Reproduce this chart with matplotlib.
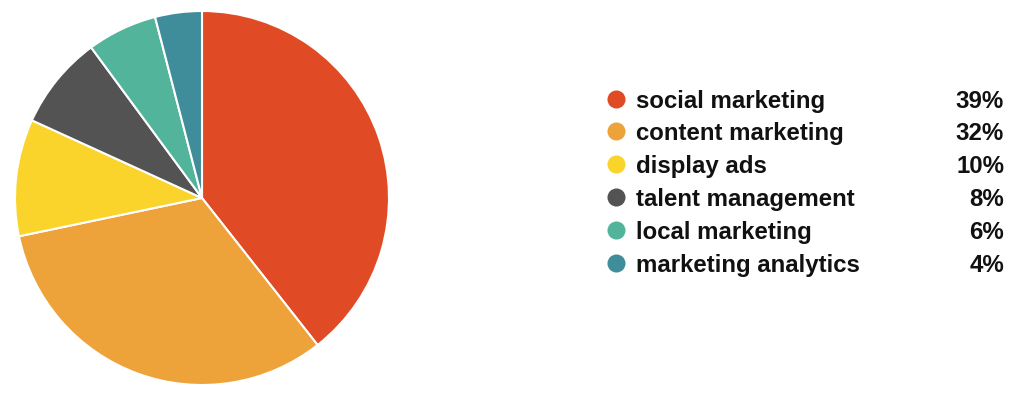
import matplotlib.pyplot as plt

labels = ['social marketing', 'content marketing', 'display ads',
          'talent management', 'local marketing', 'marketing analytics']
values = [39, 32, 10, 8, 6, 4]
colors = ['#E04B25', '#EEA23A', '#FAD42B', '#535353', '#52B49A', '#3F8C9A']

W, H = 1024, 401
fig = plt.figure(figsize=(W / 100, H / 100), dpi=100)

# pie: centre (202, 198) px, radius ~187 px
cx, cy, r = 202, 198, 187
ax = fig.add_axes([(cx - r) / W, (H - cy - r) / H, 2 * r / W, 2 * r / H])
ax.pie(values, colors=colors, startangle=90, counterclock=False,
       wedgeprops=dict(edgecolor='white', linewidth=1.5))
ax.set_xlim(-1, 1)
ax.set_ylim(-1, 1)

# legend rows drawn by hand
row_y = [99, 131, 164, 197, 230, 263]
for lab, val, col, y in zip(labels, values, colors, row_y):
    fy = (H - y) / H
    fig.add_artist(plt.Line2D([616 / W], [fy], marker='o', markersize=13,
                              color=col, markeredgewidth=0,
                              transform=fig.transFigure))
    fig.text(636 / W, fy, lab, fontsize=17.3, fontweight='bold',
             family='Liberation Sans', ha='left', va='center_baseline', color='#111111')
    fig.text(1004 / W, fy, f'{val}%', fontsize=17.3, fontweight='bold',
             family='Liberation Sans', ha='right', va='center_baseline', color='#111111')

fig.savefig('out.png', dpi=100)
